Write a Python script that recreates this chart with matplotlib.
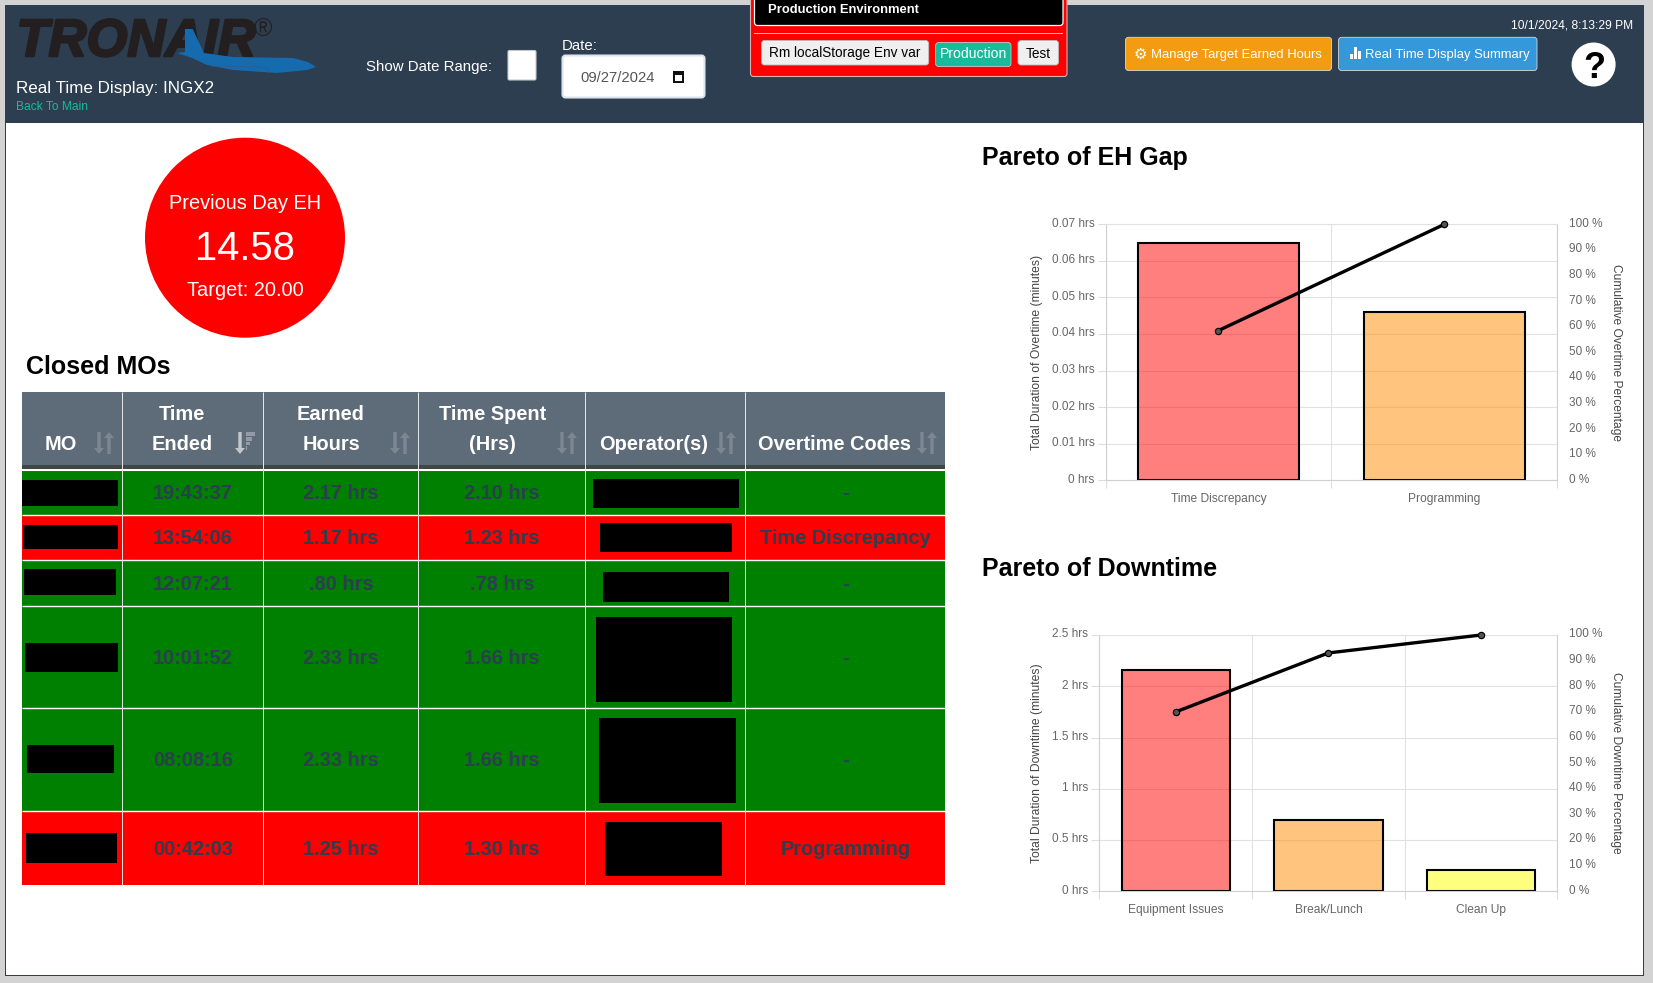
import matplotlib
matplotlib.use("Agg")
import matplotlib.pyplot as plt
import matplotlib.patheffects as pe
from matplotlib.patches import Rectangle, Circle, FancyBboxPatch, Polygon
from matplotlib.transforms import ScaledTranslation

W, H = 1653, 983
plt.rcParams['font.family'] = ['Liberation Sans', 'DejaVu Sans']

# ---- data ----
time_ended = ["19:43:37", "13:54:06", "12:07:21", "10:01:52", "08:08:16", "00:42:03"]
earned_hrs = ["2.17 hrs", "1.17 hrs", ".80 hrs", "2.33 hrs", "2.33 hrs", "1.25 hrs"]
spent_hrs = ["2.10 hrs", "1.23 hrs", ".78 hrs", "1.66 hrs", "1.66 hrs", "1.30 hrs"]
ot_codes = ["-", "Time Discrepancy", "-", "-", "-", "Programming"]
row_state = ["green", "red", "green", "green", "green", "red"]

eh_labels = ["Time Discrepancy", "Programming"]
eh_hours = [0.065, 0.046]
eh_cum = [58.5, 100]

dt_labels = ["Equipment Issues", "Break/Lunch", "Clean Up"]
dt_hours = [2.16, 0.70, 0.21]
dt_cum = [70, 93, 100]

bar_fills = ["#ff0000", "#ff8c00", "#ffff00"]

# ---- layout ----
col_x = [22, 122, 263, 418, 585, 745, 945]
row_y = [469.5, 515, 560, 606, 708, 811, 885]
mo_boxes = [(22, 480, 118, 506), (23, 525, 118, 549), (24, 569, 116, 595),
            (25, 643, 118, 672), (27, 745, 114, 773), (26, 833, 117, 863)]
op_boxes = [(593, 479, 739, 508), (600, 523, 732, 552), (603, 572, 729, 602),
            (596, 617, 732, 702), (599, 718, 736, 803), (605, 822, 722, 876)]

fig = plt.figure(figsize=(W / 100, H / 100), dpi=100, facecolor="#d3d3d3")
pg = fig.add_axes([0, 0, 1, 1])
pg.set_xlim(0, W)
pg.set_ylim(H, 0)
pg.axis("off")


def T(x, y, s, px, color="white", weight="normal", ha="center", **kw):
    return pg.text(x, y, s, fontsize=px * 0.72, color=color, fontweight=weight,
                   ha=ha, va="center_baseline", **kw)


def R(x0, y0, x1, y1, color, z=1, **kw):
    pg.add_patch(Rectangle((x0, y0), x1 - x0, y1 - y0, facecolor=color,
                           edgecolor="none", zorder=z, **kw))


def RB(x0, y0, x1, y1, color, edge="none", lw=0.0, r=3, z=2):
    pg.add_patch(FancyBboxPatch((x0, y0), x1 - x0, y1 - y0,
                                boxstyle=f"round,pad=0,rounding_size={r}",
                                facecolor=color, edgecolor=edge, linewidth=lw, zorder=z))


# page
R(5, 5, 1643.5, 976, "#2c3e50", z=0)
R(6, 123, 1642.5, 975, "white", z=0.5)
R(5, 5, 1643.5, 123, "#2c3e50", z=1)

# logo
logo = T(16.5, 36.5, "TRONAIR", 52.5, color="#231f20", weight="bold", ha="left", style="italic", zorder=3)
logo.set_path_effects([pe.withStroke(linewidth=1.8, foreground="#231f20")])
T(263, 26.5, "®", 25, color="#231f20", zorder=3)
plane = [(185, 29), (192.7, 29), (204, 53), (233, 57), (293, 58), (308, 62), (316, 67),
         (307, 70), (277, 73), (233, 70), (207, 65), (192, 58), (177, 53), (185, 52)]
pg.add_patch(Polygon(plane, closed=True, facecolor="#156bad", edgecolor="none", zorder=4))
pg.plot([212, 262, 268, 269], [66, 67, 69, 73], color="#2a5f8f", lw=0.6, zorder=5)

T(16, 87, "Real Time Display: INGX2", 17, ha="left", zorder=3)
T(16, 105.5, "Back To Main", 12, color="#18bc9c", ha="left", zorder=3)
T(366, 66, "Show Date Range:", 15, ha="left", zorder=3)
RB(508, 50.5, 536, 80, "white", edge="#c8c8c8", lw=0.8, r=1.5)
T(562, 44, "Date:", 15, ha="left", zorder=3)
RB(562.5, 55.5, 704.5, 97.5, "white", edge="#dce4ec", lw=1.5, r=3)
T(580, 77, "09/27/2024", 14.8, color="#555555", ha="left", zorder=3)
R(673, 71, 684, 82.5, "#111111", z=3)
R(675, 74.5, 682, 81, "white", z=4)

# environment box
RB(750.5, -6, 1067, 76.5, "#ff0000", edge="#d8b0b0", lw=0.8, r=3, z=2)
RB(754.5, -6, 1063, 25.5, "black", edge="white", lw=0.9, r=3, z=3)
T(768, 8.5, "Production Environment", 13, weight="bold", ha="left", zorder=4)
R(754, 32.8, 1063, 33.8, "#ffb3b3", z=3)
RB(761.5, 40.5, 928.7, 65, "#efefef", edge="#bbbbbb", lw=0.6, z=3)
T(845, 52, "Rm localStorage Env var", 13.6, color="black", zorder=4)
RB(935.6, 42.5, 1011, 66.5, "#18bc9c", edge="#c8c8c8", lw=0.6, z=3)
T(974, 53, "Production", 14, zorder=4)
RB(1018, 40.5, 1058.5, 65, "#efefef", edge="#bbbbbb", lw=0.6, z=3)
T(1038.5, 52, "Test", 13.6, color="black", zorder=4)

# right buttons
RB(1125.5, 37.3, 1331.6, 70.5, "#f39c12", edge="#d8d8d8", lw=0.6, z=3)
T(1140, 53, "⚙", 15, family=["DejaVu Sans"], weight="bold", zorder=4)
T(1151, 53.5, "Manage Target Earned Hours", 13, ha="left", zorder=4)
RB(1338.6, 37.3, 1537, 70.5, "#3498db", edge="#d8d8d8", lw=0.6, z=3)
for x0, top in zip([1349.5, 1353.5, 1357.5], [54, 47, 51]):
    R(x0, top, x0 + 3, 59, "white", z=4)
T(1365, 53.5, "Real Time Display Summary", 13, ha="left", zorder=4)
T(1633, 23.5, "10/1/2024, 8:13:29 PM", 12, ha="right", zorder=4)
pg.add_patch(Circle((1593.6, 64.5), 22, facecolor="white", edgecolor="none", zorder=3))
T(1594, 65, "?", 36, color="black", weight="bold", zorder=4)

# KPI circle
pg.add_patch(Circle((245, 237.7), 100, facecolor="#ff0000", edgecolor="none", zorder=2))
T(245, 201.7, "Previous Day EH", 20, zorder=3)
T(245, 244.5, "14.58", 40, zorder=3)
T(245, 288, "Target: 20.00", 20, zorder=3)

# headings
T(26.5, 365, "Closed MOs", 25, color="black", weight="bold", ha="left")
T(981.5, 155, "Pareto of EH Gap", 25, color="black", weight="bold", ha="left")
T(981.5, 567, "Pareto of Downtime", 25, color="black", weight="bold", ha="left")

# table header
R(col_x[0], 391.7, col_x[-1], 465, "#5e6b79", z=1)
R(col_x[0], 465, col_x[-1], 469, "#444444", z=1)
hdr = [(61, 442.7, "MO"), (182, 413, "Time"), (182, 442.7, "Ended"), (331, 413, "Earned"),
       (331, 442.7, "Hours"), (492.5, 413, "Time Spent"), (492.5, 442.7, "(Hrs)"),
       (654, 442.7, "Operator(s)"), (834, 442.7, "Overtime Codes")]
for x, y, s in hdr:
    T(x, y, s, 20, weight="bold", zorder=3)


def sort_icon(cx, active=False):
    y0, y1 = 432, 454
    col = "#c2c7cd" if active else "#7d8792"
    lx = cx - 5
    pg.add_patch(Polygon([(lx - 1.7, y0), (lx + 1.7, y0), (lx + 1.7, y1 - 6), (lx + 5, y1 - 6), (lx, y1),
                          (lx - 5, y1 - 6), (lx - 1.7, y1 - 6)], facecolor=col, edgecolor="none", zorder=3))
    if active:
        for i, x1 in enumerate([cx + 10, cx + 7, cx + 4.5, cx + 2]):
            R(cx + 1, y0 + i * 4.8, x1, y0 + i * 4.8 + 3.8, "#929ba5", z=3)
    else:
        rx = cx + 5
        pg.add_patch(Polygon([(rx - 1.7, y1), (rx + 1.7, y1), (rx + 1.7, y0 + 6), (rx + 5, y0 + 6), (rx, y0),
                              (rx - 5, y0 + 6), (rx - 1.7, y0 + 6)], facecolor=col, edgecolor="none", zorder=3))


for cx, act in zip([104, 245, 400, 567, 726, 927], [False, True, False, False, False, False]):
    sort_icon(cx, act)

# table body
state_col = {"green": "#008000", "red": "#ff0000"}
for i, st in enumerate(row_state):
    y0, y1 = row_y[i], row_y[i + 1]
    R(col_x[0], y0, col_x[-1], y1, state_col[st], z=1)
    yc = (y0 + y1) / 2
    for k, vals in zip([1, 2, 3, 5], [time_ended, earned_hrs, spent_hrs, ot_codes]):
        T((col_x[k] + col_x[k + 1]) / 2 + 0.5, yc - 0.5, vals[i], 20, color="#2c3e50", weight="bold", zorder=3)
    b = mo_boxes[i]
    R(b[0], b[1], b[2], b[3], "black", z=4)
    b = op_boxes[i]
    R(b[0], b[1], b[2], b[3], "black", z=4)
for y in row_y[1:-1]:
    pg.plot([col_x[0], col_x[-1]], [y, y], color="white", lw=1.0, zorder=2, solid_capstyle="butt")
pg.plot([col_x[0], col_x[-1]], [469.5, 469.5], color="white", lw=0.8, zorder=2)
for x in col_x[1:-1]:
    pg.plot([x, x], [391.7, row_y[-1]], color="#e8e8e8", lw=0.7, zorder=2, solid_capstyle="butt")


def pareto(box, labels, hours, cum, ymax, yticks, yfmt, ylab, rlab, ylab_x, rlab_x):
    x0, top, x1, bot = box
    ax = fig.add_axes([x0 / W, 1 - bot / H, (x1 - x0) / W, (bot - top) / H], facecolor="none")
    n = len(labels)
    ax.set_xlim(-0.5, n - 0.5)
    ax.set_ylim(0, ymax)
    ax.set_axisbelow(True)
    ax.bar(range(n), hours, width=0.71, color=bar_fills[:n], alpha=0.5, linewidth=0, zorder=2)
    ax.bar(range(n), hours, width=0.71, fill=False, edgecolor="black", linewidth=1.5, zorder=2.5)
    ax.set_xticks(range(n))
    ax.set_xticklabels(labels, fontsize=8.64, color="#666666")
    ax.tick_params(axis="x", which="major", length=0, pad=9)
    ax.set_xticks([i - 0.5 for i in range(n + 1)], minor=True)
    ax.tick_params(axis="x", which="minor", length=6, color="#dddddd", width=0.8)
    ax.grid(axis="x", which="minor", color="#e2e2e2", lw=0.8)
    ax.set_yticks(yticks)
    ax.set_yticklabels([yfmt(v) for v in yticks], fontsize=8.5, color="#666666")
    ax.tick_params(axis="y", length=5.5, color="#dddddd", width=0.8, pad=2.5)
    ax.grid(axis="y", color="#e2e2e2", lw=0.8)
    for s in ax.spines.values():
        s.set_color("#d0d0d0")
        s.set_linewidth(0.8)
    ax.spines["top"].set_color("#e2e2e2")

    ax2 = ax.twinx()
    ax2.set_ylim(0, 100)
    ax2.set_yticks(range(0, 101, 10))
    ax2.set_yticklabels([f"{v} %" for v in range(0, 101, 10)], fontsize=8.5, color="#666666")
    ax2.tick_params(axis="y", length=0, pad=8)
    for s in ax2.spines.values():
        s.set_visible(False)
    ax2.plot(range(n), cum, color="black", lw=2.4, marker="o", ms=4.5, mfc="#555555", mec="black",
             mew=0.9, zorder=5, clip_on=False)

    shift = ScaledTranslation(0, 1.5 / 72, fig.dpi_scale_trans)
    for lab in list(ax.get_yticklabels()) + list(ax2.get_yticklabels()):
        lab.set_transform(lab.get_transform() + shift)

    ym = (top + bot) / 2
    pg.text(ylab_x, ym, ylab, rotation=90, fontsize=8.7, color="#444444", ha="center", va="center")
    pg.text(rlab_x, ym, rlab, rotation=-90, fontsize=8.65, color="#444444", ha="center", va="center")


pareto((1105.5, 224.3, 1557.4, 480.3), eh_labels, eh_hours, eh_cum, 0.07,
       [0, .01, .02, .03, .04, .05, .06, .07], lambda v: "0 hrs" if v == 0 else f"{v:.2f} hrs",
       "Total Duration of Overtime (minutes)", "Cumulative Overtime Percentage", 1036.6, 1616)
pareto((1099.4, 635, 1557.4, 891.3), dt_labels, dt_hours, dt_cum, 2.5,
       [0, .5, 1, 1.5, 2, 2.5], lambda v: f"{v:g} hrs",
       "Total Duration of Downtime (minutes)", "Cumulative Downtime Percentage", 1036.6, 1616)

fig.savefig("out.png", dpi=100, facecolor=fig.get_facecolor())
